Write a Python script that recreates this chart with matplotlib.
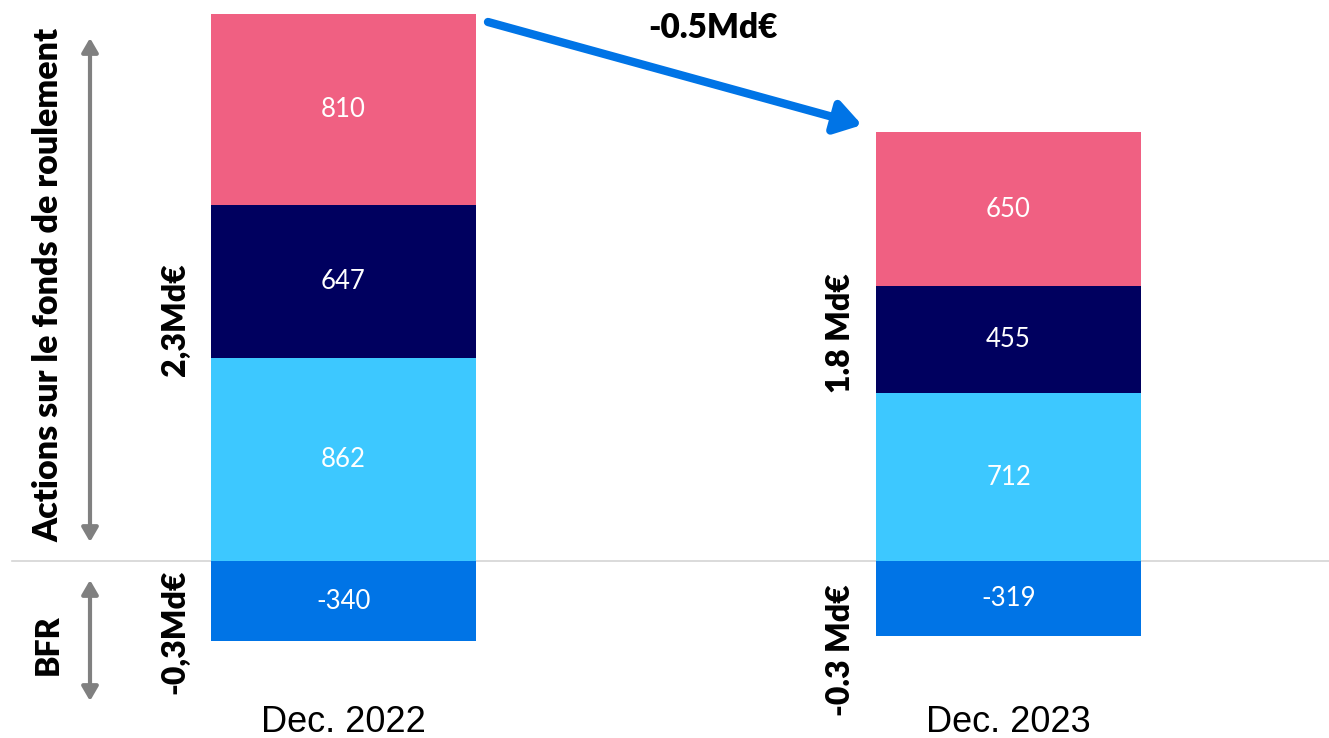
import matplotlib
matplotlib.use("Agg")
import matplotlib.pyplot as plt
from matplotlib.patches import FancyArrowPatch

categories = ["Dec. 2022", "Dec. 2023"]
seg_light = [862, 712]
seg_navy = [647, 455]
seg_pink = [810, 650]
seg_bfr = [-340, -319]
totals_txt = ["2,3Md€", "1.8 Md€"]
bfr_txt = ["-0,3Md€", "-0.3 Md€"]
delta_txt = "-0.5Md€"

c_light = "#3DC8FF"
c_navy = "#00005F"
c_pink = "#F06082"
c_bfr = "#0074E6"

W, H = 1329, 738
fig = plt.figure(figsize=(W / 100, H / 100), dpi=100)
ax = fig.add_axes([0, 0, 1, 1])
ax.set_axis_off()

upp = sum([seg_light[0], seg_navy[0], seg_pink[0]]) / 547.0  # units per pixel
ax.set_ylim(-(H - 561) * upp, 561 * upp)
ppx = 665.0
ax.set_xlim(-343.5 / ppx, 1 + (W - 1008.5) / ppx)

def px(x):
    return (x - 343.5) / ppx
def py(y):
    return (561 - y) * upp

x = [0, 1]
bw = 0.397
bold = dict(family=["Lato", "DejaVu Sans"], fontweight="heavy", color="black")
light = dict(family=["Lato", "DejaVu Sans"], fontweight="normal", color="white", fontsize=18.5)

ax.plot([px(12), px(W)], [0, 0], color="#d4d4d4", lw=1.2, zorder=1)

b1 = ax.bar(x, seg_light, bw, color=c_light, zorder=2)
b2 = ax.bar(x, seg_navy, bw, bottom=seg_light, color=c_navy, zorder=2)
bot3 = [a + b for a, b in zip(seg_light, seg_navy)]
b3 = ax.bar(x, seg_pink, bw, bottom=bot3, color=c_pink, zorder=2)
b4 = ax.bar(x, seg_bfr, bw, color=c_bfr, zorder=2)

for i in range(2):
    ax.text(x[i], seg_light[i] / 2, str(seg_light[i]), ha="center", va="center", **light)
    ax.text(x[i], seg_light[i] + seg_navy[i] / 2, str(seg_navy[i]), ha="center", va="center", **light)
    ax.text(x[i], bot3[i] + seg_pink[i] / 2, str(seg_pink[i]), ha="center", va="center", **light)
    ax.text(x[i], seg_bfr[i] / 2, str(seg_bfr[i]), ha="center", va="center", **light)
    ax.text(x[i], py(722), categories[i], ha="center", va="center",
            family=["Liberation Sans", "DejaVu Sans"], fontsize=26, color="black")

fs = 23
ax.text(px(48), py(285), "Actions sur le fonds de roulement", rotation=90, ha="center", va="center", fontsize=24.5, **bold)
ax.text(px(48), py(645), "BFR", rotation=90, ha="center", va="center", fontsize=fs, **bold)
ax.text(px(175), py(320), totals_txt[0], rotation=90, ha="center", va="center", fontsize=fs, **bold)
ax.text(px(175), py(632), bfr_txt[0], rotation=90, ha="center", va="center", fontsize=fs, **bold)
ax.text(px(840), py(333), totals_txt[1], rotation=90, ha="center", va="center", fontsize=fs, **bold)
ax.text(px(840), py(650), bfr_txt[1], rotation=90, ha="center", va="center", fontsize=fs, **bold)
ax.text(px(713), py(28), delta_txt, ha="center", va="center", fontsize=24, **bold)

# gray double arrows
for y0, y1 in [(38, 542), (580, 701)]:
    ax.add_patch(FancyArrowPatch((px(90), py(y0)), (px(90), py(y1)), arrowstyle="<|-|>,head_length=6,head_width=3.5",
                                 color="#808080", lw=3, mutation_scale=1.4, shrinkA=0, shrinkB=0, zorder=3))

# blue arrow
ax.add_patch(FancyArrowPatch((px(488), py(22)), (px(862), py(125)), arrowstyle="-|>,head_length=7,head_width=4.5",
                             color=c_bfr, lw=6, mutation_scale=2.2, shrinkA=0, shrinkB=0, zorder=3))

fig.savefig("out.png", dpi=100)
